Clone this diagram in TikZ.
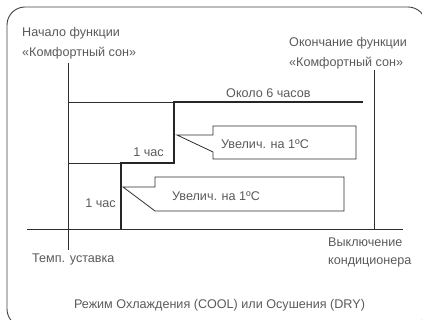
\documentclass[tikz,border=0pt]{standalone}
\usepackage{fontspec}
\setmainfont{Liberation Sans}
\definecolor{txtgray}{HTML}{5A5A5A}
\definecolor{linegray}{HTML}{2E2E2E}
\begin{document}
\begin{tikzpicture}[x=1pt,y=-1pt,
  lbl/.style={text=txtgray, font=\fontsize{12.6}{14}\selectfont, inner sep=0pt},
  axisline/.style={draw=linegray, line width=0.8pt},
  stepline/.style={draw=black!85, line width=2.2pt},
  callout/.style={draw=linegray, line width=0.8pt, fill=white, line join=miter}]
\useasboundingbox (0,0) rectangle (422,320);
\begin{scope}
\clip (0,0) rectangle (422,320);
\draw[draw=black!75, line width=0.9pt, rounded corners=18pt] (7,7) rectangle (426,327);
\end{scope}
% axes
\coordinate (yTop) at (68,63);
\coordinate (yBot) at (68,250);
\coordinate (xL) at (27,229);
\coordinate (xR) at (403,229);
\coordinate (eTop) at (374,70);
\coordinate (eBot) at (374,229);
\draw[axisline] (yTop) -- (yBot);
\draw[axisline] (xL) -- (xR);
\draw[axisline] (eTop) -- (eBot);
% thin level lines
\coordinate (s0) at (121,229);
\coordinate (s1) at (121,163);
\coordinate (s2) at (174,163);
\coordinate (s3) at (174,102);
\coordinate (s4) at (363,102);
\draw[axisline] (68,102) -- (s3);
\draw[axisline] (68,163) -- (s1);
% thick step
\draw[stepline, line cap=butt, line join=miter] (s0) -- (s1) -- (s2) -- (s3) -- (s4);
% callouts
\draw[callout] (177,135) -- (213,135) -- (213,126) -- (356,126) -- (356,159) -- (213,159) -- (213,152) -- cycle;
\draw[callout] (123,187) -- (155,187) -- (155,177) -- (344,177) -- (344,211) -- (155,211) -- cycle;
% texts
\node[lbl, anchor=west] (t1) at (22,33) {Начало функции};
\node[lbl, anchor=west] (t2) at (22,53) {«Комфортный сон»};
\node[lbl, anchor=west] (t3) at (289,43) {Окончание функции};
\node[lbl, anchor=west] (t4) at (289,63) {«Комфортный сон»};
\node[lbl, anchor=west] (t5) at (226,93) {Около 6 часов};
\node[lbl, anchor=east] (t6) at (164,152) {1 час};
\node[lbl, anchor=east] (t7) at (116,203) {1 час};
\node[lbl, anchor=west] (t8) at (221,144) {Увелич. на 1ºC};
\node[lbl, anchor=west] (t9) at (172,196) {Увелич. на 1ºC};
\node[lbl, anchor=west] (t10) at (32,259) {Темп. уставка};
\node[lbl, anchor=west] (t11) at (328,242) {Выключение};
\node[lbl, anchor=west] (t12) at (328,262) {кондиционера};
\node[lbl, anchor=center] (t13) at (219.5,305) {Режим Охлаждения (COOL) или Осушения (DRY)};
\end{tikzpicture}
\end{document}
